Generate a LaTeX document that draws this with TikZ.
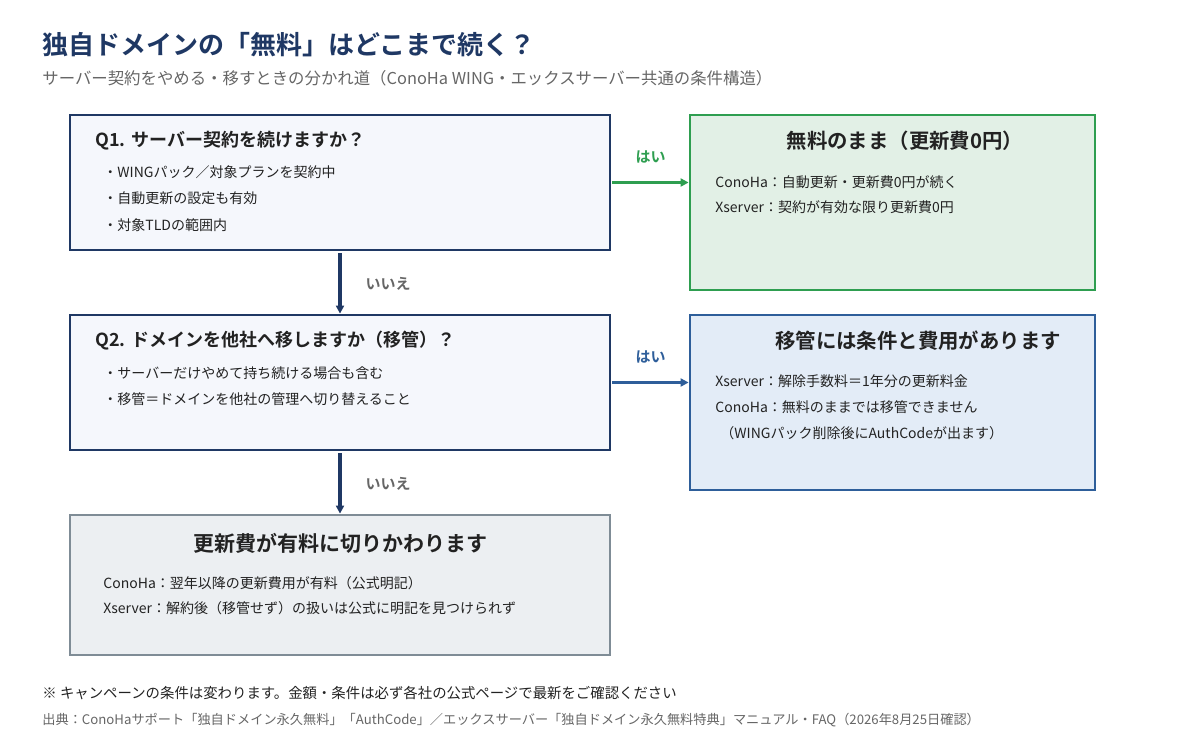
\documentclass[tikz,border=0pt]{standalone}
\usepackage{fontspec}
\setmainfont{Noto Sans CJK JP}[BoldFont={Noto Sans CJK JP Bold}]
\usetikzlibrary{arrows.meta}
\definecolor{navy}{HTML}{1F3864}
\definecolor{qfill}{HTML}{F5F7FC}
\definecolor{gline}{HTML}{2E9E50}
\definecolor{gfill}{HTML}{E2F0E6}
\definecolor{bline}{HTML}{2E5E9A}
\definecolor{bfill}{HTML}{E3ECF7}
\definecolor{sline}{HTML}{7F8C96}
\definecolor{sfill}{HTML}{ECEFF2}
\definecolor{txt}{HTML}{222222}
\definecolor{sub}{HTML}{666666}
\tikzset{
  box/.style={draw, line width=1.4pt, inner sep=0pt, minimum width=270pt},
  qbox/.style={box, draw=navy, fill=qfill, minimum height=67.5pt},
  line/.style={anchor=west, inner sep=0pt, font=\fontsize{7}{8}\selectfont, text=txt},
  head/.style={inner sep=0pt, font=\bfseries\fontsize{9}{10}\selectfont, text=txt},
  arr/.style={-{Triangle[length=4pt,width=4pt]}, line width=1.6pt},
  lbl/.style={inner sep=0pt, font=\bfseries\fontsize{7.5}{9}\selectfont}
}
\begin{document}
\begin{tikzpicture}[x=0.5pt, y=-0.5pt]
\useasboundingbox (0,0) rectangle (1200,750);
% title
\node[anchor=west, inner sep=0pt, text=navy, font=\bfseries\fontsize{13}{15}\selectfont] (title) at (42,45) {独自ドメインの「無料」はどこまで続く？};
\node[anchor=west, inner sep=0pt, text=sub, font=\fontsize{8.2}{10}\selectfont] (subtitle) at (42,78) {サーバー契約をやめる・移すときの分かれ道（ConoHa WING・エックスサーバー共通の条件構造）};
% boxes
\node[qbox] (q1) at (340,182.5) {};
\node[qbox] (q2) at (340,382.5) {};
\node[box, draw=sline, fill=sfill, minimum height=70pt] (paid) at (340,585) {};
\node[box, draw=gline, fill=gfill, minimum width=202.5pt, minimum height=87.5pt] (free) at (892.5,202.5) {};
\node[box, draw=bline, fill=bfill, minimum width=202.5pt, minimum height=87.5pt] (move) at (892.5,402.5) {};
% Q1
\node[head, anchor=west] (q1t) at (95,141) {Q1. サーバー契約を続けますか？};
\node[line] at (103,172) {・WINGパック／対象プランを契約中};
\node[line] at (103,198) {・自動更新の設定も有効};
\node[line] at (103,225) {・対象TLDの範囲内};
% Q2
\node[head, anchor=west] (q2t) at (95,341) {Q2. ドメインを他社へ移しますか（移管）？};
\node[line] at (103,373) {・サーバーだけやめて持ち続ける場合も含む};
\node[line] at (103,399) {・移管＝ドメインを他社の管理へ切り替えること};
% free
\node[head, font=\bfseries\fontsize{10.2}{12}\selectfont] (freet) at (905,141) {無料のまま（更新費0円）};
\node[line] at (715,182) {ConoHa：自動更新・更新費0円が続く};
\node[line] at (715,207) {Xserver：契約が有効な限り更新費0円};
% move
\node[head, font=\bfseries\fontsize{10.2}{12}\selectfont] (movet) at (918,341) {移管には条件と費用があります};
\node[line] at (715,381) {Xserver：解除手数料＝1年分の更新料金};
\node[line] at (715,407) {ConoHa：無料のままでは移管できません};
\node[line] at (720,433) {（WINGパック削除後にAuthCodeが出ます）};
% paid
\node[head, font=\bfseries\fontsize{10.5}{12}\selectfont] (paidt) at (340,543) {更新費が有料に切りかわります};
\node[line] at (103,583) {ConoHa：翌年以降の更新費用が有料（公式明記）};
\node[line] at (103,608) {Xserver：解約後（移管せず）の扱いは公式に明記を見つけられず};
% connectors
\draw[arr, gline] (q1.east) ++(1,0) -- (q1.east -| free.west) node[lbl, midway, above=9pt] {はい};
\draw[arr, bline] (q2.east) ++(1,0) -- (q2.east -| move.west) node[lbl, midway, above=9pt] {はい};
\draw[arr, navy] (q1.south) ++(0,2) -- (q2.north) node[lbl, midway, right=12pt, text=sub] {いいえ};
\draw[arr, navy] (q2.south) ++(0,2) -- (paid.north) node[lbl, midway, right=12pt, text=sub] {いいえ};
% notes
\node[anchor=west, inner sep=0pt, text=txt, font=\fontsize{7.2}{9}\selectfont] (note) at (42,693) {※ キャンペーンの条件は変わります。金額・条件は必ず各社の公式ページで最新をご確認ください};
\node[anchor=west, inner sep=0pt, text=sub, font=\fontsize{6.6}{8}\selectfont] (src) at (42,720) {出典：ConoHaサポート「独自ドメイン永久無料」「AuthCode」／エックスサーバー「独自ドメイン永久無料特典」マニュアル・FAQ（2026年8月25日確認）};
\end{tikzpicture}
\end{document}
